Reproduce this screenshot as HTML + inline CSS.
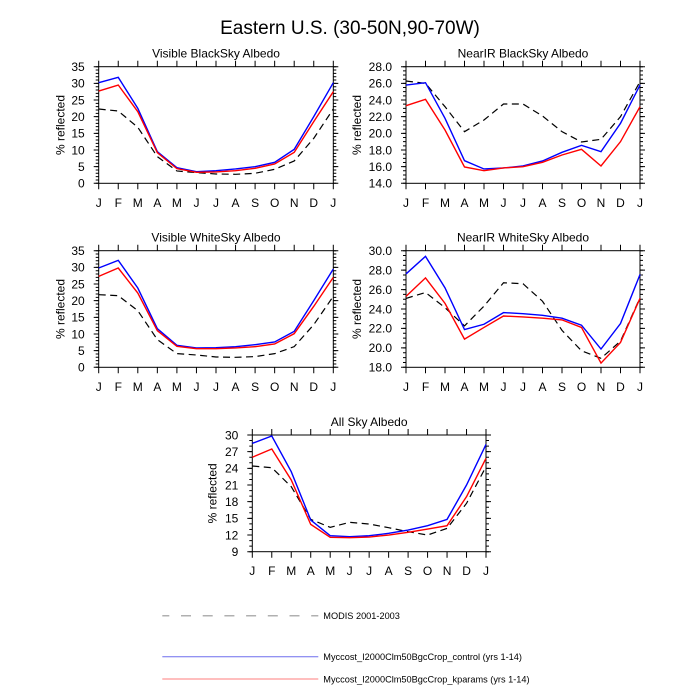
<!DOCTYPE html>
<html><head><meta charset="utf-8">
<style>
html,body{margin:0;padding:0;background:#fff;}
svg{display:block;font-family:"Liberation Sans",Arial,sans-serif;}
.t{font-size:12px;fill:#000;}
.lg{font-size:9.2px;fill:#000;}
.bx{fill:none;stroke:#000;stroke-width:1;}
.tk{stroke:#000;fill:none;}
.d{fill:none;stroke:#000;stroke-width:1.2;stroke-dasharray:7 4.5;}
.b{fill:none;stroke:#0000ff;stroke-width:1.4;}
.r{fill:none;stroke:#ff0000;stroke-width:1.4;}
</style></head>
<body>
<svg width="700" height="700" viewBox="0 0 700 700" xmlns="http://www.w3.org/2000/svg">
<rect width="700" height="700" fill="#fff"/>
<text x="350" y="34" font-size="19" text-anchor="middle">Eastern U.S. (30-50N,90-70W)</text>

<!-- ============ Panel 1 ============ -->
<g>
<text class="t" x="216" y="57.7" text-anchor="middle">Visible BlackSky Albedo</text>
<rect class="bx" x="98.7" y="66.7" width="234.6" height="116.6"/>
<line class="tk" x1="97.2" y1="183.8" x2="97.2" y2="66.2" stroke-width="3" stroke-dasharray="1 2.3314"/>
<line class="tk" x1="96.2" y1="183.8" x2="96.2" y2="66.2" stroke-width="5" stroke-dasharray="1 15.657"/>
<line class="tk" x1="334.8" y1="183.8" x2="334.8" y2="66.2" stroke-width="3" stroke-dasharray="1 2.3314"/>
<line class="tk" x1="335.8" y1="183.8" x2="335.8" y2="66.2" stroke-width="5" stroke-dasharray="1 15.657"/>
<line class="tk" x1="98.2" y1="186.3" x2="333.8" y2="186.3" stroke-width="6" stroke-dasharray="1 18.55"/>
<line class="tk" x1="98.2" y1="63.7" x2="333.8" y2="63.7" stroke-width="6" stroke-dasharray="1 18.55"/>
<g class="t" text-anchor="end">
<text x="84.7" y="187.6">0</text><text x="84.7" y="170.9">5</text><text x="84.7" y="154.3">10</text><text x="84.7" y="137.6">15</text><text x="84.7" y="121">20</text><text x="84.7" y="104.3">25</text><text x="84.7" y="87.7">30</text><text x="84.7" y="71">35</text>
</g>
<g class="t" text-anchor="middle">
<text x="98.7" y="206.8">J</text><text x="118.25" y="206.8">F</text><text x="137.8" y="206.8">M</text><text x="157.35" y="206.8">A</text><text x="176.9" y="206.8">M</text><text x="196.45" y="206.8">J</text><text x="216" y="206.8">J</text><text x="235.55" y="206.8">A</text><text x="255.1" y="206.8">S</text><text x="274.65" y="206.8">O</text><text x="294.2" y="206.8">N</text><text x="313.75" y="206.8">D</text><text x="333.3" y="206.8">J</text>
</g>
<text class="t" transform="translate(64.3,125) rotate(-90)" text-anchor="middle">% reflected</text>
<polyline class="d" points="98.7,109.01 118.25,111.01 137.8,127.33 157.35,156.65 176.9,170.97 196.45,172.64 216,173.97 235.55,174.31 255.1,173.31 274.65,169.31 294.2,160.98 313.75,138.33 333.3,109.01"/>
<polyline class="b" points="98.7,82.69 118.25,77.36 137.8,108.34 157.35,151.65 176.9,167.64 196.45,171.64 216,170.64 235.55,168.97 255.1,166.64 274.65,162.31 294.2,149.32 313.75,116.67 333.3,82.69"/>
<polyline class="r" points="98.7,91.02 118.25,85.02 137.8,111.67 157.35,152.65 176.9,168.64 196.45,172.31 216,171.97 235.55,170.64 255.1,168.31 274.65,163.98 294.2,152.32 313.75,121.67 333.3,91.69"/>
</g>

<!-- ============ Panel 2 ============ -->
<g>
<text class="t" x="523" y="57.7" text-anchor="middle">NearIR BlackSky Albedo</text>
<rect class="bx" x="406" y="66.7" width="234" height="116.6"/>
<line class="tk" x1="404.5" y1="183.8" x2="404.5" y2="66.2" stroke-width="3" stroke-dasharray="1 3.1643"/>
<line class="tk" x1="403.5" y1="183.8" x2="403.5" y2="66.2" stroke-width="5" stroke-dasharray="1 15.657"/>
<line class="tk" x1="641.5" y1="183.8" x2="641.5" y2="66.2" stroke-width="3" stroke-dasharray="1 3.1643"/>
<line class="tk" x1="642.5" y1="183.8" x2="642.5" y2="66.2" stroke-width="5" stroke-dasharray="1 15.657"/>
<line class="tk" x1="405.5" y1="186.3" x2="640.5" y2="186.3" stroke-width="6" stroke-dasharray="1 18.5"/>
<line class="tk" x1="405.5" y1="63.7" x2="640.5" y2="63.7" stroke-width="6" stroke-dasharray="1 18.5"/>
<g class="t" text-anchor="end">
<text x="392" y="187.6">14.0</text><text x="392" y="170.9">16.0</text><text x="392" y="154.3">18.0</text><text x="392" y="137.6">20.0</text><text x="392" y="121">22.0</text><text x="392" y="104.3">24.0</text><text x="392" y="87.7">26.0</text><text x="392" y="71">28.0</text>
</g>
<g class="t" text-anchor="middle">
<text x="406" y="206.8">J</text><text x="425.5" y="206.8">F</text><text x="445" y="206.8">M</text><text x="464.5" y="206.8">A</text><text x="484" y="206.8">M</text><text x="503.5" y="206.8">J</text><text x="523" y="206.8">J</text><text x="542.5" y="206.8">A</text><text x="562" y="206.8">S</text><text x="581.5" y="206.8">O</text><text x="601" y="206.8">N</text><text x="620.5" y="206.8">D</text><text x="640" y="206.8">J</text>
</g>
<text class="t" transform="translate(361,125) rotate(-90)" text-anchor="middle">% reflected</text>
<polyline class="d" points="406,81.03 425.5,83.36 445,106.68 464.5,131.66 484,120 503.5,104.01 523,104.01 542.5,116 562,131.66 581.5,141.99 601,139.33 620.5,116.67 640,81.69"/>
<polyline class="b" points="406,85.02 425.5,82.69 445,118.34 464.5,160.65 484,168.97 503.5,167.98 523,165.98 542.5,160.98 562,152.32 581.5,145.32 601,151.65 620.5,123.33 640,85.02"/>
<polyline class="r" points="406,105.68 425.5,99.35 445,130 464.5,166.98 484,170.64 503.5,167.98 523,166.64 542.5,162.31 562,154.98 581.5,149.32 601,165.98 620.5,141.66 640,106.68"/>
</g>

<!-- ============ Panel 3 ============ -->
<g>
<text class="t" x="216" y="241.7" text-anchor="middle">Visible WhiteSky Albedo</text>
<rect class="bx" x="98.7" y="250.7" width="234.6" height="116.6"/>
<line class="tk" x1="97.2" y1="367.8" x2="97.2" y2="250.2" stroke-width="3" stroke-dasharray="1 2.3314"/>
<line class="tk" x1="96.2" y1="367.8" x2="96.2" y2="250.2" stroke-width="5" stroke-dasharray="1 15.657"/>
<line class="tk" x1="334.8" y1="367.8" x2="334.8" y2="250.2" stroke-width="3" stroke-dasharray="1 2.3314"/>
<line class="tk" x1="335.8" y1="367.8" x2="335.8" y2="250.2" stroke-width="5" stroke-dasharray="1 15.657"/>
<line class="tk" x1="98.2" y1="370.3" x2="333.8" y2="370.3" stroke-width="6" stroke-dasharray="1 18.55"/>
<line class="tk" x1="98.2" y1="247.7" x2="333.8" y2="247.7" stroke-width="6" stroke-dasharray="1 18.55"/>
<g class="t" text-anchor="end">
<text x="84.7" y="371.6">0</text><text x="84.7" y="354.9">5</text><text x="84.7" y="338.3">10</text><text x="84.7" y="321.6">15</text><text x="84.7" y="305">20</text><text x="84.7" y="288.3">25</text><text x="84.7" y="271.7">30</text><text x="84.7" y="255">35</text>
</g>
<g class="t" text-anchor="middle">
<text x="98.7" y="390.8">J</text><text x="118.25" y="390.8">F</text><text x="137.8" y="390.8">M</text><text x="157.35" y="390.8">A</text><text x="176.9" y="390.8">M</text><text x="196.45" y="390.8">J</text><text x="216" y="390.8">J</text><text x="235.55" y="390.8">A</text><text x="255.1" y="390.8">S</text><text x="274.65" y="390.8">O</text><text x="294.2" y="390.8">N</text><text x="313.75" y="390.8">D</text><text x="333.3" y="390.8">J</text>
</g>
<text class="t" transform="translate(64.3,309) rotate(-90)" text-anchor="middle">% reflected</text>
<polyline class="d" points="98.7,294.68 118.25,295.67 137.8,310.67 157.35,339.65 176.9,353.64 196.45,354.97 216,356.97 235.55,357.31 255.1,356.64 274.65,353.64 294.2,346.65 313.75,324.66 333.3,296.34"/>
<polyline class="b" points="98.7,268.02 118.25,260.36 137.8,288.01 157.35,328.66 176.9,345.31 196.45,347.98 216,347.64 235.55,346.65 255.1,344.65 274.65,341.98 294.2,331.32 313.75,300.67 333.3,269.02"/>
<polyline class="r" points="98.7,276.35 118.25,268.02 137.8,293.01 157.35,330.65 176.9,346.31 196.45,348.64 216,348.64 235.55,347.98 255.1,346.65 274.65,343.98 294.2,333.65 313.75,306.34 333.3,277.35"/>
</g>

<!-- ============ Panel 4 ============ -->
<g>
<text class="t" x="523" y="241.7" text-anchor="middle">NearIR WhiteSky Albedo</text>
<rect class="bx" x="406" y="250.7" width="234" height="116.6"/>
<line class="tk" x1="404.5" y1="367.8" x2="404.5" y2="250.2" stroke-width="3" stroke-dasharray="1 3.8583"/>
<line class="tk" x1="403.5" y1="367.8" x2="403.5" y2="250.2" stroke-width="5" stroke-dasharray="1 18.433"/>
<line class="tk" x1="641.5" y1="367.8" x2="641.5" y2="250.2" stroke-width="3" stroke-dasharray="1 3.8583"/>
<line class="tk" x1="642.5" y1="367.8" x2="642.5" y2="250.2" stroke-width="5" stroke-dasharray="1 18.433"/>
<line class="tk" x1="405.5" y1="370.3" x2="640.5" y2="370.3" stroke-width="6" stroke-dasharray="1 18.5"/>
<line class="tk" x1="405.5" y1="247.7" x2="640.5" y2="247.7" stroke-width="6" stroke-dasharray="1 18.5"/>
<g class="t" text-anchor="end">
<text x="392" y="371.6">18.0</text><text x="392" y="352.2">20.0</text><text x="392" y="332.7">22.0</text><text x="392" y="313.3">24.0</text><text x="392" y="293.9">26.0</text><text x="392" y="274.4">28.0</text><text x="392" y="255">30.0</text>
</g>
<g class="t" text-anchor="middle">
<text x="406" y="390.8">J</text><text x="425.5" y="390.8">F</text><text x="445" y="390.8">M</text><text x="464.5" y="390.8">A</text><text x="484" y="390.8">M</text><text x="503.5" y="390.8">J</text><text x="523" y="390.8">J</text><text x="542.5" y="390.8">A</text><text x="562" y="390.8">S</text><text x="581.5" y="390.8">O</text><text x="601" y="390.8">N</text><text x="620.5" y="390.8">D</text><text x="640" y="390.8">J</text>
</g>
<text class="t" transform="translate(361,309) rotate(-90)" text-anchor="middle">% reflected</text>
<polyline class="d" points="406,298.41 425.5,292.48 445,307.64 464.5,325.91 484,306.08 503.5,282.76 523,283.74 542.5,301.23 562,330.38 581.5,350.78 601,358.36 620.5,341.06 640,297.73"/>
<polyline class="b" points="406,273.92 425.5,256.34 445,287.82 464.5,329.5 484,324.25 503.5,312.59 523,313.66 542.5,315.32 562,318.23 581.5,325.23 601,349.03 620.5,323.57 640,274.51"/>
<polyline class="r" points="406,296.37 425.5,277.91 445,303.36 464.5,339.12 484,327.46 503.5,316 523,316.97 542.5,318.23 562,319.88 581.5,327.46 601,363.12 620.5,342.43 640,298.31"/>
</g>

<!-- ============ Panel 5 ============ -->
<g>
<text class="t" x="369.15" y="426" text-anchor="middle">All Sky Albedo</text>
<rect class="bx" x="252.3" y="435" width="233.7" height="116.7"/>
<line class="tk" x1="250.8" y1="552.2" x2="250.8" y2="434.5" stroke-width="3" stroke-dasharray="1 4.5571"/>
<line class="tk" x1="249.8" y1="552.2" x2="249.8" y2="434.5" stroke-width="5" stroke-dasharray="1 15.671"/>
<line class="tk" x1="487.5" y1="552.2" x2="487.5" y2="434.5" stroke-width="3" stroke-dasharray="1 4.5571"/>
<line class="tk" x1="488.5" y1="552.2" x2="488.5" y2="434.5" stroke-width="5" stroke-dasharray="1 15.671"/>
<line class="tk" x1="251.8" y1="554.7" x2="486.5" y2="554.7" stroke-width="6" stroke-dasharray="1 18.475"/>
<line class="tk" x1="251.8" y1="432" x2="486.5" y2="432" stroke-width="6" stroke-dasharray="1 18.475"/>
<g class="t" text-anchor="end">
<text x="238.3" y="556">9</text><text x="238.3" y="539.3">12</text><text x="238.3" y="522.7">15</text><text x="238.3" y="506">18</text><text x="238.3" y="489.3">21</text><text x="238.3" y="472.7">24</text><text x="238.3" y="456">27</text><text x="238.3" y="439.3">30</text>
</g>
<g class="t" text-anchor="middle">
<text x="252.3" y="575.2">J</text><text x="271.78" y="575.2">F</text><text x="291.25" y="575.2">M</text><text x="310.73" y="575.2">A</text><text x="330.2" y="575.2">M</text><text x="349.68" y="575.2">J</text><text x="369.15" y="575.2">J</text><text x="388.63" y="575.2">A</text><text x="408.1" y="575.2">S</text><text x="427.58" y="575.2">O</text><text x="447.05" y="575.2">N</text><text x="466.53" y="575.2">D</text><text x="486" y="575.2">J</text>
</g>
<text class="t" transform="translate(216.6,493.35) rotate(-90)" text-anchor="middle">% reflected</text>
<polyline class="d" points="252.3,466.01 271.78,467.68 291.25,486.68 310.73,519.36 330.2,527.36 349.68,522.36 369.15,524.03 388.63,527.69 408.1,531.69 427.58,535.03 447.05,528.36 466.53,503.35 486,466.68"/>
<polyline class="b" points="252.3,443.34 271.78,436 291.25,471.68 310.73,520.02 330.2,535.7 349.68,536.7 369.15,535.7 388.63,533.36 408.1,530.03 427.58,525.69 447.05,519.36 466.53,485.01 486,444.45"/>
<polyline class="r" points="252.3,457.23 271.78,449 291.25,480.01 310.73,524.36 330.2,537.36 349.68,537.7 369.15,537.03 388.63,535.03 408.1,532.36 427.58,529.03 447.05,525.69 466.53,496.68 486,458.34"/>
</g>

<!-- ============ Legend ============ -->
<line x1="162.3" y1="615.7" x2="318.3" y2="615.7" stroke="#b0b0b0" stroke-width="1.5" stroke-dasharray="10 11.7" stroke-dashoffset="3"/>
<text class="lg" x="323.3" y="619">MODIS 2001-2003</text>
<line x1="162.3" y1="656.7" x2="318.3" y2="656.7" stroke="#6f6fee" stroke-width="1"/>
<text class="lg" x="323.3" y="660">Myccost_I2000Clm50BgcCrop_control (yrs 1-14)</text>
<line x1="162.3" y1="679" x2="318.3" y2="679" stroke="#ffa8a8" stroke-width="1.6"/>
<text class="lg" x="323.3" y="682.3">Myccost_I2000Clm50BgcCrop_kparams (yrs 1-14)</text>
</svg>
</body></html>
